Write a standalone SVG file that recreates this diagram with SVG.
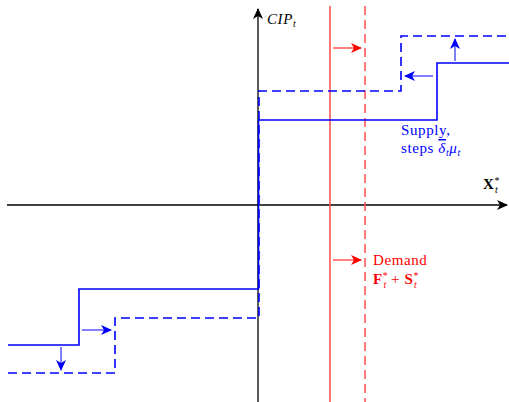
<svg xmlns="http://www.w3.org/2000/svg" width="509" height="402" viewBox="0 0 509 402">
<defs>
<marker id="ak" markerWidth="12" markerHeight="10" refX="10" refY="5" orient="auto" markerUnits="userSpaceOnUse"><path d="M0,0 L11,5 L0,10 L3,5 Z" fill="#000"/></marker>
<marker id="ab" markerWidth="12" markerHeight="10" refX="10" refY="5" orient="auto" markerUnits="userSpaceOnUse"><path d="M0,0 L11,5 L0,10 L3,5 Z" fill="#00f"/></marker>
<marker id="ar" markerWidth="12" markerHeight="10" refX="10" refY="5" orient="auto" markerUnits="userSpaceOnUse"><path d="M0,0 L11,5 L0,10 L3,5 Z" fill="#f00"/></marker>
</defs>
<style>
.ax{stroke:#000;stroke-width:1.3;fill:none}
.sup{stroke:#00f;stroke-width:1.6;fill:none}
.supd{stroke:#00f;stroke-width:1.6;fill:none;stroke-dasharray:9,5}
.dem{stroke:#ff4d4d;stroke-width:1.5;fill:none}
.demd{stroke:#ff4d4d;stroke-width:1.5;fill:none;stroke-dasharray:9,5}
.ab{stroke:#00f;stroke-width:1;fill:none}
.ar{stroke:#f00;stroke-width:1;fill:none}
text{font-family:"Liberation Serif","DejaVu Serif",serif;font-size:15px;letter-spacing:0.6px}
.b{fill:#00f}.r{fill:#f00}
</style>
<g id="connectors">
<line class="ax" x1="7" y1="205" x2="507" y2="205" marker-end="url(#ak)"/>
<line class="ax" x1="258" y1="402" x2="258" y2="9" marker-end="url(#ak)"/>
<line class="dem" x1="330" y1="6" x2="330" y2="402"/>
<line class="demd" x1="365" y1="6" x2="365" y2="402"/>
<polyline class="sup" points="8,345 79,345 79,289 258.5,289 258.5,120 437,120 437,63 509,63"/>
<polyline class="supd" points="8,373 115,373 115,318 259,318 259,91 401,91 401,36 509,36"/>
<line class="ar" x1="333" y1="48" x2="361" y2="48" marker-end="url(#ar)"/>
<line class="ar" x1="333" y1="260" x2="361" y2="260" marker-end="url(#ar)"/>
<line class="ab" x1="433" y1="76" x2="405" y2="76" marker-end="url(#ab)"/>
<line class="ab" x1="455" y1="61" x2="455" y2="39" marker-end="url(#ab)"/>
<line class="ab" x1="82" y1="330" x2="111" y2="330" marker-end="url(#ab)"/>
<line class="ab" x1="61" y1="347" x2="61" y2="370" marker-end="url(#ab)"/>
</g>
<g id="label-cip"><text x="267" y="24" font-style="italic" font-size="14">CIP<tspan font-size="10" dy="3">t</tspan></text></g>
<g id="label-x"><text x="483" y="189" font-weight="bold">X<tspan font-size="10" font-weight="normal" dy="-5">*</tspan><tspan font-size="10" font-weight="normal" font-style="italic" dx="-5" dy="9">t</tspan></text></g>
<g id="label-supply">
<text class="b" x="401" y="135">Supply,</text>
<text class="b" x="401" y="153">steps <tspan font-style="italic" text-decoration="overline">δ</tspan><tspan font-style="italic" font-size="10" dy="3">t</tspan><tspan font-style="italic" dy="-3">μ</tspan><tspan font-style="italic" font-size="10" dy="3">t</tspan></text>
</g>
<g id="label-demand">
<text class="r" x="373" y="265">Demand</text>
<text class="r" x="373" y="284"><tspan font-weight="bold">F</tspan><tspan font-size="10" dy="-5">*</tspan><tspan font-size="10" font-style="italic" dx="-5" dy="9">t</tspan><tspan dy="-4"> + </tspan><tspan font-weight="bold">S</tspan><tspan font-size="10" dy="-5">*</tspan><tspan font-size="10" font-style="italic" dx="-5" dy="9">t</tspan></text>
</g>
</svg>
